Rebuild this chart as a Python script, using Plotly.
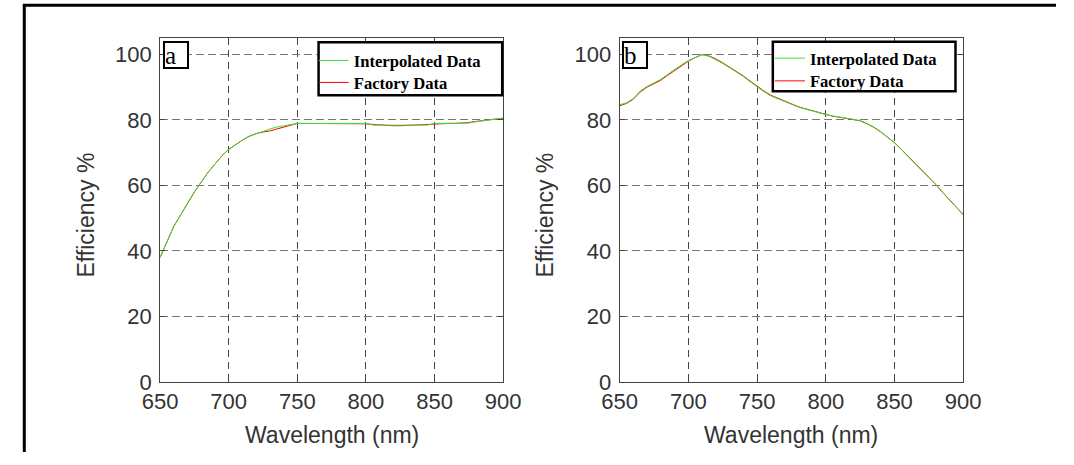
import plotly.graph_objects as go

# Wavelength grid (nm)
wavelength = [650, 655, 660, 665, 670, 675, 680, 685, 690, 695, 700, 705, 710, 715, 720, 725,
              730, 735, 740, 745, 750, 755, 760, 765, 770, 775, 780, 785, 790, 795, 800, 805,
              810, 815, 820, 825, 830, 835, 840, 845, 850, 855, 860, 865, 870, 875, 880, 885,
              890, 895, 900]

# Panel a
a_interp = [38.0, 43.0, 47.5, 51.0, 54.5, 58.0, 61.0, 64.0, 66.5, 69.0, 71.0, 72.5, 73.8, 75.0,
            75.8, 76.6, 77.2, 77.8, 78.2, 78.6, 78.9, 78.9, 78.9, 78.9, 78.9, 78.9, 78.9, 78.9,
            78.9, 78.9, 78.9, 78.4, 78.4, 78.4, 78.4, 78.4, 78.4, 78.4, 78.4, 78.4, 78.9, 78.9,
            78.9, 78.9, 78.9, 79.0, 79.4, 79.8, 80.0, 80.3, 80.5]
a_factory = [38.0, 43.0, 47.5, 51.0, 54.5, 58.0, 61.0, 64.0, 66.5, 69.0, 71.0, 72.5, 73.8, 75.0,
             75.8, 76.3, 76.6, 77.2, 77.8, 78.4, 78.9, 78.9, 78.9, 78.9, 78.9, 78.9, 78.9, 78.9,
             78.9, 78.9, 78.8, 78.6, 78.4, 78.3, 78.2, 78.2, 78.3, 78.4, 78.5, 78.7, 78.9, 78.9,
             78.9, 78.9, 79.0, 79.2, 79.5, 79.8, 80.0, 80.3, 80.5]

# Panel b
b_interp = [84.6, 85.2, 86.5, 88.8, 90.2, 91.2, 92.4, 93.9, 95.4, 96.8, 98.1, 99.1, 99.9, 99.4,
            98.4, 97.2, 95.9, 94.6, 93.2, 91.6, 90.0, 88.6, 87.3, 86.4, 85.6, 84.7, 83.9, 83.3,
            82.7, 82.1, 81.6, 81.2, 80.9, 80.6, 80.3, 79.8, 78.9, 77.8, 76.4, 74.8, 73.0, 70.9,
            68.8, 66.7, 64.6, 62.4, 60.2, 57.8, 55.5, 53.3, 51.0]
b_factory = [84.3, 85.0, 86.3, 88.5, 90.0, 91.0, 92.1, 93.6, 95.1, 96.5, 97.9, 99.0, 99.9, 99.5,
             98.6, 97.4, 96.1, 94.8, 93.4, 91.8, 90.2, 88.8, 87.5, 86.6, 85.7, 84.8, 84.0, 83.4,
             82.8, 82.2, 81.6, 81.1, 80.8, 80.5, 80.2, 79.7, 78.8, 77.7, 76.3, 74.7, 73.0, 71.0,
             68.9, 66.8, 64.7, 62.5, 60.3, 57.9, 55.6, 53.4, 51.1]

x_ticks = [650, 700, 750, 800, 850, 900]
y_ticks = [0, 20, 40, 60, 80, 100]

GREEN = "rgb(55,228,55)"
RED = "rgb(255,0,0)"
W, H = 1074, 465


def px_x(p):
    return p / W


def px_y(p):
    return 1 - p / H


fig = go.Figure()

# panel a
fig.add_trace(go.Scatter(x=wavelength, y=a_factory, mode="lines", name="Factory Data",
                         line=dict(color=RED, width=1), legend="legend2",
                         xaxis="x", yaxis="y"))
fig.add_trace(go.Scatter(x=wavelength, y=a_interp, mode="lines", name="Interpolated Data",
                         line=dict(color=GREEN, width=1), legend="legend",
                         xaxis="x", yaxis="y"))
# panel b
fig.add_trace(go.Scatter(x=wavelength, y=b_factory, mode="lines", name="Factory Data",
                         line=dict(color=RED, width=1), legend="legend4",
                         xaxis="x2", yaxis="y2"))
fig.add_trace(go.Scatter(x=wavelength, y=b_interp, mode="lines", name="Interpolated Data",
                         line=dict(color=GREEN, width=1), legend="legend3",
                         xaxis="x2", yaxis="y2"))

tickfont = dict(family="Liberation Sans, Arial, sans-serif", size=22, color="#333333")

common_x = dict(range=[650, 900], tickvals=x_ticks, ticks="inside", ticklen=5,
                tickcolor="#444444", showline=True, linecolor="#444444", linewidth=1,
                mirror="ticks", showgrid=True, gridcolor="#444444", griddash="7px,5px",
                gridwidth=1, zeroline=False, tickfont=tickfont, fixedrange=True)
common_y = dict(range=[0, 105], tickvals=y_ticks, ticks="inside", ticklen=5,
                tickcolor="#444444", showline=True, linecolor="#444444", linewidth=1,
                mirror="ticks", showgrid=True, gridcolor="#777777", griddash="8px,4px",
                gridwidth=1, zeroline=False, tickfont=tickfont, fixedrange=True,
                ticklabelstandoff=3)

ydom = [px_y(393), px_y(39)]
legend_font = dict(family="Liberation Serif, Times New Roman, serif", size=16.6,
                   color="black", weight="bold")


def leg(left, row_center):
    return dict(x=px_x(left), y=px_y(row_center - 16.3), xanchor="left", yanchor="top",
                bgcolor="rgba(0,0,0,0)", borderwidth=0, itemwidth=30,
                font=legend_font, tracegroupgap=0)


fig.update_layout(
    width=W, height=H,
    margin=dict(l=0, r=0, t=0, b=0),
    paper_bgcolor="white", plot_bgcolor="white",
    xaxis=dict(domain=[px_x(147), px_x(502)], anchor="y", **common_x),
    yaxis=dict(domain=ydom, anchor="x", **common_y),
    xaxis2=dict(domain=[px_x(622.5), px_x(978)], anchor="y2", **common_x),
    yaxis2=dict(domain=ydom, anchor="x2", **common_y),
    legend=leg(306, 60.7),
    legend2=leg(306, 83.3),
    legend3=leg(778, 58.3),
    legend4=leg(778, 81.7),
    showlegend=True,
)

# legend frames (white boxes with black border, drawn above the grid)
fig.add_shape(type="rect", xref="paper", yref="paper", layer="above",
              x0=px_x(311), x1=px_x(501), y0=px_y(98), y1=px_y(43.5),
              fillcolor="white", line=dict(color="black", width=2.5))
fig.add_shape(type="rect", xref="paper", yref="paper", layer="above",
              x0=px_x(781), x1=px_x(970), y0=px_y(94), y1=px_y(43),
              fillcolor="white", line=dict(color="black", width=2.5))

title_font = dict(family="Liberation Sans, Arial, sans-serif", size=23, color="#333333")
annotations = []
for cx in [324.5, 800]:
    annotations.append(dict(text="Wavelength (nm)", x=px_x(cx), y=px_y(447), xref="paper",
                            yref="paper", showarrow=False, font=title_font,
                            xanchor="center", yanchor="middle"))
for cx in [70, 545]:
    annotations.append(dict(text="Efficiency %", x=px_x(cx), y=px_y(221), xref="paper",
                            yref="paper", showarrow=False, font=title_font, textangle=-90,
                            xanchor="center", yanchor="middle"))
for lx, t in [(150, "a"), (625, "b")]:
    annotations.append(dict(text=t, x=px_x(lx), y=px_y(42), xref="paper", yref="paper",
                            showarrow=False, xanchor="left", yanchor="top",
                            font=dict(family="Liberation Serif, Times New Roman, serif",
                                      size=25, color="black"),
                            bordercolor="black", borderwidth=2, borderpad=0,
                            bgcolor="white", width=22, height=24, align="left"))
fig.update_layout(annotations=annotations)

# outer frame (left and top edges visible)
fig.add_shape(type="line", xref="paper", yref="paper", x0=px_x(6.5), x1=px_x(6.5),
              y0=0, y1=px_y(5.5), line=dict(color="black", width=3))
fig.add_shape(type="line", xref="paper", yref="paper", x0=px_x(5), x1=1,
              y0=px_y(5.5), y1=px_y(5.5), line=dict(color="black", width=3))

fig.write_html("out.html")
